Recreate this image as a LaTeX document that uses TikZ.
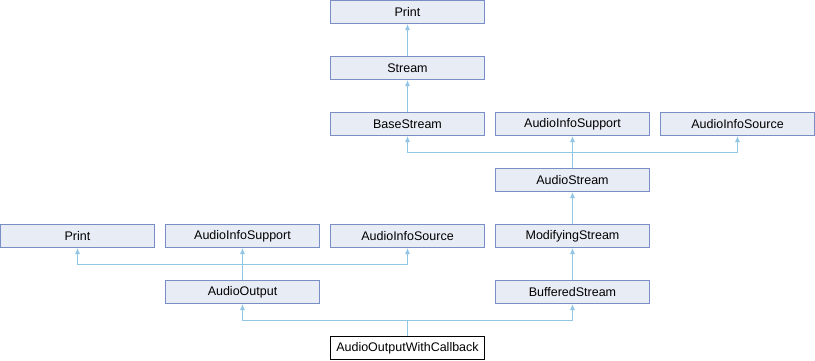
\documentclass[tikz,border=0pt]{standalone}
\usepackage{fontspec}
\setmainfont{Liberation Sans}
\usetikzlibrary{arrows.meta,calc}
\definecolor{boxfill}{HTML}{E8ECF5}
\definecolor{boxline}{HTML}{7A8EC6}
\definecolor{edgecol}{HTML}{93C6E4}
\begin{document}
\begin{tikzpicture}[x=1pt,y=-1pt,
  cls/.style={draw=boxline,fill=boxfill,line width=1pt,minimum width=154pt,minimum height=23pt,inner sep=0pt,
    font=\fontsize{12.5}{14}\selectfont},
  focus/.style={cls,draw=black,fill=white},
  edge/.style={draw=edgecol,line width=1pt,-{Latex[length=6pt,width=5pt]}},
  bus/.style={draw=edgecol,line width=1pt}]
\useasboundingbox (0,0) rectangle (815,360);

% classes, one row every 56pt
\node[cls] (print)   at (407.5,12)  {Print};
\node[cls] (stream)  at (407.5,68)  {Stream};
\node[cls] (base)    at (407.5,124) {BaseStream};
\node[cls] (supA)    at (572.5,124) {AudioInfoSupport};
\node[cls] (srcA)    at (737.5,124) {AudioInfoSource};
\node[cls] (astream) at (572.5,180) {AudioStream};
\node[cls] (printB)  at (77.5,236)  {Print};
\node[cls] (supB)    at (242.5,236) {AudioInfoSupport};
\node[cls] (srcB)    at (407.5,236) {AudioInfoSource};
\node[cls] (modif)   at (572.5,236) {ModifyingStream};
\node[cls] (aout)    at (242.5,292) {AudioOutput};
\node[cls] (buffered) at (572.5,292) {BufferedStream};
\node[focus] (aowc)  at (407.5,348) {AudioOutputWithCallback};

% single inheritance
\draw[edge] (stream.north) -- (print.south);
\draw[edge] (base.north) -- (stream.south);
\draw[edge] (modif.north) -- (astream.south);
\draw[edge] (buffered.north) -- (modif.south);

% AudioStream: three bases joined by a horizontal bus
\coordinate (busA) at ($(astream.north)!.5!(supA.south)$);
\draw[bus] (astream.north) -- (busA);
\draw[edge] (busA) -| (base.south);
\draw[edge] (busA) -- (supA.south);
\draw[edge] (busA) -| (srcA.south);

% AudioOutput: three bases
\coordinate (busB) at ($(aout.north)!.5!(supB.south)$);
\draw[bus] (aout.north) -- (busB);
\draw[edge] (busB) -| (printB.south);
\draw[edge] (busB) -- (supB.south);
\draw[edge] (busB) -| (srcB.south);

% AudioOutputWithCallback: two bases
\coordinate (busC) at ($(aowc.north)!.5!(aowc.north |- aout.south)$);
\draw[bus] (aowc.north) -- (busC);
\draw[edge] (busC) -| (aout.south);
\draw[edge] (busC) -| (buffered.south);
\end{tikzpicture}
\end{document}
